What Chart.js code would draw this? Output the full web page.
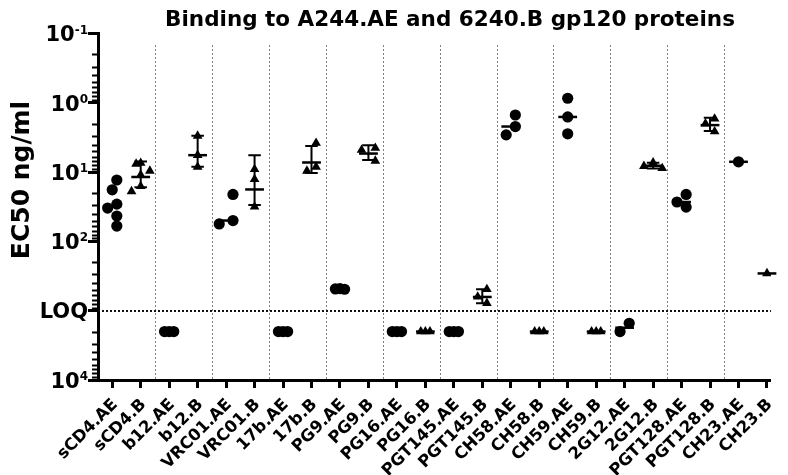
<!DOCTYPE html>
<html>
<head>
<meta charset="utf-8">
<script src="https://cdn.jsdelivr.net/npm/chart.js@4.4.1/dist/chart.umd.min.js"></script>
<style>
  html, body { margin: 0; padding: 0; background: #fff; }
  #wrap { width: 788px; height: 475px; }
</style>
</head>
<body>
<div id="wrap"><canvas id="chart" width="788" height="475"></canvas></div>
<script>
const categories = ['sCD4.AE', 'sCD4.B', 'b12.AE', 'b12.B', 'VRC01.AE', 'VRC01.B', '17b.AE', '17b.B',
  'PG9.AE', 'PG9.B', 'PG16.AE', 'PG16.B', 'PGT145.AE', 'PGT145.B', 'CH58.AE', 'CH58.B',
  'CH59.AE', 'CH59.B', '2G12.AE', '2G12.B', 'PGT128.AE', 'PGT128.B', 'CH23.AE', 'CH23.B'];

// EC50 in ng/ml, one array per group (2000 = below LOQ)
const ec_sCD4_AE = [13, 18, 29, 33, 43, 60];
const ec_sCD4_B = [7.4, 7.6, 9.6, 11, 16, 19];
const ec_b12_AE = [2000, 2000, 2000];
const ec_b12_B = [3.0, 5.7, 8.4];
const ec_VRC01_AE = [21, 50, 56];
const ec_VRC01_B = [9.1, 12.7, 31.6];
const ec_17b_AE = [2000, 2000, 2000];
const ec_17b_B = [3.8, 8.4, 9.6];
const ec_PG9_AE = [480, 485, 490];
const ec_PG9_B = [4.5, 4.8, 6.9];
const ec_PG16_AE = [2000, 2000, 2000];
const ec_PG16_B = [2000, 2000, 2000];
const ec_PGT145_AE = [2000, 2000, 2000];
const ec_PGT145_B = [490, 630, 780];
const ec_CH58_AE = [1.5, 2.2, 2.9];
const ec_CH58_B = [2000, 2000, 2000];
const ec_CH59_AE = [0.86, 1.6, 2.8];
const ec_CH59_B = [2000, 2000, 2000];
const ec_2G12_AE = [1520, 2000];
const ec_2G12_B = [7.3, 8.2, 8.8];
const ec_PGT128_AE = [21, 27, 32];
const ec_PGT128_B = [1.7, 2.0, 2.6];
const ec_CH23_AE = [7.1];
const ec_CH23_B = [290];

const groups = [ec_sCD4_AE, ec_sCD4_B, ec_b12_AE, ec_b12_B, ec_VRC01_AE, ec_VRC01_B, ec_17b_AE, ec_17b_B,
  ec_PG9_AE, ec_PG9_B, ec_PG16_AE, ec_PG16_B, ec_PGT145_AE, ec_PGT145_B, ec_CH58_AE, ec_CH58_B,
  ec_CH59_AE, ec_CH59_B, ec_2G12_AE, ec_2G12_B, ec_PGT128_AE, ec_PGT128_B, ec_CH23_AE, ec_CH23_B];

const yTickValues = [0.1, 1, 10, 100, 1000, 10000];
const yTickBase = ['10', '10', '10', '10', 'LOQ', '10'];
const yTickExp = ['-1', '0', '1', '2', '', '4'];
const loqValue = 1000;

const FONT = 'DejaVu Sans';
const TITLE = 'Binding to A244.AE and 6240.B gp120 proteins';

// spread overlapping points sideways, like a column scatter plot
const PX_PER_CAT = 29.2, PX_PER_DECADE = 69.3, STEP = 4.7, MIN_GAP = 10;
function spread(values) {
  const order = values.map((v, i) => i).sort((a, b) => values[a] - values[b]);
  const placed = [];
  const offs = [];
  for (const i of order) {
    const py = Math.log10(values[i]) * PX_PER_DECADE;
    for (let k = 0; k < 30; k++) {
      const dx = (k === 0 ? 0 : (k % 2 ? -1 : 1) * Math.ceil(k / 2)) * STEP;
      const free = placed.every(p => {
        const dy = Math.abs(p.py - py);
        if (dy < 1) return Math.abs(p.dx - dx) >= STEP - 0.01; // equal values may overlap
        return Math.hypot(p.dx - dx, dy) >= MIN_GAP;
      });
      if (free) {
        placed.push({dx, py});
        offs[i] = dx;
        break;
      }
    }
  }
  const mid = (Math.min(...offs) + Math.max(...offs)) / 2;
  return offs.map(o => (o - mid) / PX_PER_CAT);
}

const circlePts = [];
const trianglePts = [];
const stats = [];
groups.forEach((vals, i) => {
  const isB = categories[i].endsWith('.B');
  const offs = spread(vals);
  vals.forEach((v, j) => (isB ? trianglePts : circlePts).push({x: i + offs[j], y: v}));
  const sorted = vals.slice().sort((a, b) => a - b);
  if (isB) {
    const mean = vals.reduce((a, b) => a + b, 0) / vals.length;
    const sd = vals.length > 1 ? Math.sqrt(vals.reduce((a, b) => a + (b - mean) ** 2, 0) / (vals.length - 1)) : 0;
    stats.push({center: mean, lo: mean - sd, hi: mean + sd, bars: sd > 0.0001});
  } else {
    const n = sorted.length;
    const med = n % 2 ? sorted[(n - 1) / 2] : (sorted[n / 2 - 1] + sorted[n / 2]) / 2;
    stats.push({center: med, bars: false});
  }
});

const groupMarks = {
  id: 'groupMarks',
  beforeDatasetsDraw(chart) {
    const {ctx, chartArea, scales: {x, y}} = chart;
    ctx.save();
    // separators between antibody pairs
    ctx.strokeStyle = '#808080';
    ctx.lineWidth = 1;
    ctx.setLineDash([2, 2]);
    for (let i = 1.5; i < categories.length - 1; i += 2) {
      const px = Math.round(x.getPixelForValue(i)) + 0.5;
      ctx.beginPath();
      ctx.moveTo(px, 45);
      ctx.lineTo(px, chartArea.bottom);
      ctx.stroke();
    }
    // LOQ line
    const ly = Math.round(y.getPixelForValue(loqValue));
    ctx.strokeStyle = '#111';
    ctx.lineWidth = 2;
    ctx.beginPath();
    ctx.moveTo(chartArea.left, ly);
    ctx.lineTo(chartArea.right, ly);
    ctx.stroke();
    ctx.restore();
  },
  afterDatasetsDraw(chart) {
    const {ctx, scales: {x, y}} = chart;
    ctx.save();
    ctx.strokeStyle = '#000';
    stats.forEach((s, i) => {
      const cy = y.getPixelForValue(s.center);
      ctx.lineWidth = 2.5;
      ctx.beginPath();
      ctx.moveTo(x.getPixelForValue(i - 0.33), cy);
      ctx.lineTo(x.getPixelForValue(i + 0.33), cy);
      ctx.stroke();
      if (s.bars) {
        const cx = x.getPixelForValue(i);
        const y1 = y.getPixelForValue(s.lo), y2 = y.getPixelForValue(s.hi);
        ctx.lineWidth = 2;
        ctx.beginPath();
        ctx.moveTo(cx, y1); ctx.lineTo(cx, y2);
        ctx.moveTo(x.getPixelForValue(i - 0.22), y1); ctx.lineTo(x.getPixelForValue(i + 0.22), y1);
        ctx.moveTo(x.getPixelForValue(i - 0.22), y2); ctx.lineTo(x.getPixelForValue(i + 0.22), y2);
        ctx.stroke();
      }
    });
    ctx.restore();
  },
  afterDraw(chart) {
    const {ctx, chartArea, scales: {y}} = chart;
    ctx.save();
    // minor ticks of the log axis
    ctx.strokeStyle = '#000';
    ctx.lineWidth = 2;
    for (let d = -1; d < 4; d++) {
      for (let k = 2; k < 10; k++) {
        const py = Math.round(y.getPixelForValue(k * Math.pow(10, d))) + 0.5;
        ctx.beginPath();
        ctx.moveTo(chartArea.left - 6, py);
        ctx.lineTo(chartArea.left, py);
        ctx.stroke();
      }
    }
    // tick labels with superscript exponents
    ctx.fillStyle = '#000';
    const right = chartArea.left - 10;
    yTickValues.forEach((v, i) => {
      const py = y.getPixelForValue(v);
      ctx.font = 'bold 12px "' + FONT + '"';
      const ew = yTickExp[i] ? ctx.measureText(yTickExp[i]).width : 0;
      ctx.textAlign = 'right';
      ctx.textBaseline = 'alphabetic';
      if (yTickExp[i]) ctx.fillText(yTickExp[i], right, py);
      ctx.font = 'bold 21px "' + FONT + '"';
      ctx.fillText(yTickBase[i], right - ew, py + 7.7);
    });
    // chart title
    ctx.textAlign = 'center';
    ctx.textBaseline = 'alphabetic';
    ctx.font = 'bold 21.5px "' + FONT + '"';
    ctx.fillText(TITLE, 450, 26);
    // axis title
    ctx.translate(22, 180);
    ctx.rotate(-Math.PI / 2);
    ctx.textBaseline = 'middle';
    ctx.font = 'bold 25px "' + FONT + '"';
    ctx.fillText('EC50 ng/ml', 0, 0);
    ctx.restore();
  }
};

const ctx = document.getElementById('chart');

new Chart(ctx, {
  type: 'scatter',
  data: {
    datasets: [{
      label: 'AE',
      data: circlePts,
      pointStyle: 'circle',
      pointRadius: 5.6,
      backgroundColor: '#000',
      borderColor: '#000',
      borderWidth: 0
    }, {
      label: 'B',
      data: trianglePts,
      pointStyle: 'triangle',
      pointRadius: 5.6,
      backgroundColor: '#000',
      borderColor: '#000',
      borderWidth: 0
    }]
  },
  options: {
    responsive: false,
    animation: false,
    layout: { padding: { top: 33.5 } },
    plugins: {
      legend: { display: false },
      tooltip: { enabled: false }
    },
    scales: {
      x: {
        type: 'linear',
        min: -0.5,
        max: 23.14,
        afterBuildTicks: s => { s.ticks = categories.map((c, i) => ({ value: i })); },
        afterFit: s => { s.height = 95; },
        ticks: {
          autoSkip: false,
          minRotation: 45,
          maxRotation: 45,
          padding: 7,
          labelOffset: 3,
          color: '#000',
          font: { family: FONT, size: 16.5, weight: 'bold' },
          callback: v => categories[v]
        },
        grid: { drawOnChartArea: false, tickLength: 8, tickWidth: 3, tickColor: '#000' },
        border: { color: '#000', width: 3 }
      },
      y: {
        type: 'logarithmic',
        reverse: true,
        min: 0.1,
        max: 10000,
        afterBuildTicks: s => { s.ticks = yTickValues.map(v => ({ value: v, major: true })); },
        afterFit: s => { s.width = 98; },
        ticks: { display: false },
        grid: { drawOnChartArea: false, tickLength: 10, tickWidth: 3, tickColor: '#000' },
        border: { color: '#000', width: 3 }
      }
    }
  },
  plugins: [groupMarks]
});
</script>
</body>
</html>
